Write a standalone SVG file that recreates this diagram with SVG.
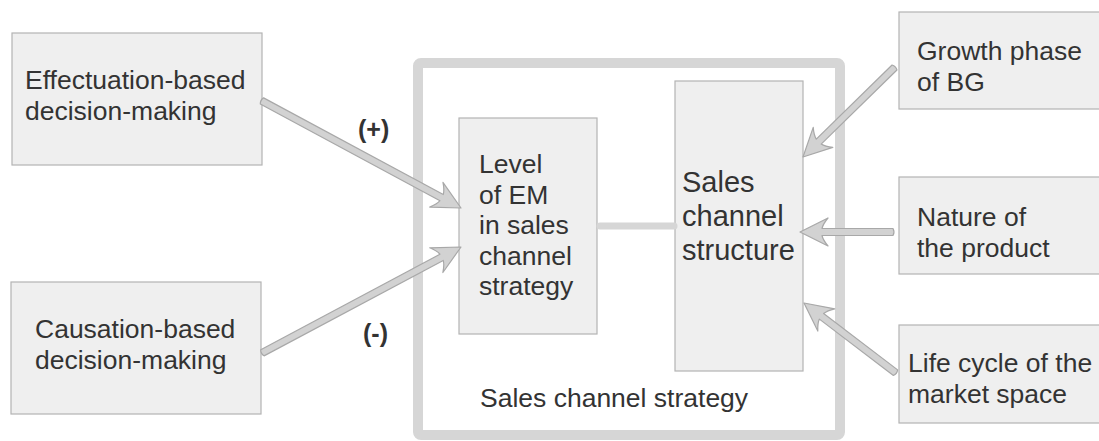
<svg xmlns="http://www.w3.org/2000/svg" width="1099" height="441" viewBox="0 0 1099 441">
<style>
.box{fill:#efefef;stroke:#b3b3b3;stroke-width:1.2}
.t{font-family:"Liberation Sans",Arial,sans-serif;font-size:26.5px;fill:#333}
.big{font-size:29px}
.b{font-family:"Liberation Sans",Arial,sans-serif;font-size:25px;font-weight:bold;fill:#333}
.arr{fill:#d2d2d2;stroke:#a8a8a8;stroke-width:1.2;stroke-linejoin:round}
</style>
<rect width="1099" height="441" fill="#fff"/>
<g id="container">
<rect x="418" y="63" width="422" height="372" rx="3" fill="none" stroke="#d6d6d6" stroke-width="10"/>
<text class="t" x="480" y="407">Sales channel strategy</text>
</g>
<g id="effectuation">
<rect class="box" x="12" y="33" width="250" height="132"/>
<text class="t" x="25" y="89">Effectuation-based</text>
<text class="t" x="25" y="120">decision-making</text>
</g>
<g id="causation">
<rect class="box" x="11" y="282" width="250" height="132"/>
<text class="t" x="35" y="338">Causation-based</text>
<text class="t" x="35" y="369">decision-making</text>
</g>
<g id="level">
<rect class="box" x="459" y="118" width="138" height="216"/>
<text class="t" x="479" y="173">Level</text>
<text class="t" x="479" y="204">of EM</text>
<text class="t" x="479" y="234">in sales</text>
<text class="t" x="479" y="265">channel</text>
<text class="t" x="479" y="295">strategy</text>
</g>
<g id="structure">
<rect class="box" x="675" y="81" width="128" height="290"/>
<text class="t big" x="682" y="192">Sales</text>
<text class="t big" x="682" y="226">channel</text>
<text class="t big" x="682" y="260">structure</text>
</g>
<g id="growth">
<rect class="box" x="899" y="12" width="205" height="97"/>
<text class="t" x="917" y="60">Growth phase</text>
<text class="t" x="917" y="91">of BG</text>
</g>
<g id="nature">
<rect class="box" x="899" y="177" width="205" height="97"/>
<text class="t" x="917" y="226">Nature of</text>
<text class="t" x="917" y="257">the product</text>
</g>
<g id="lifecycle">
<rect class="box" x="899" y="325" width="205" height="98"/>
<text class="t" x="908" y="372">Life cycle of the</text>
<text class="t" x="908" y="403">market space</text>
</g>
<g id="connectors">
<line x1="600" y1="226" x2="674" y2="226" stroke="#d6d6d6" stroke-width="7" stroke-linecap="round"/>
<path class="arr" transform="translate(461,208) rotate(208.27)" d="M0,0 L28,-14 Q23,-8 22,-3.5 L226,-3.5 Q228,0 226,3.5 L22,3.5 Q23,8 28,14 Z"/>
<path class="arr" transform="translate(461,247) rotate(151.96)" d="M0,0 L28,-14 Q23,-8 22,-3.5 L225,-3.5 Q227,0 225,3.5 L22,3.5 Q23,8 28,14 Z"/>
<path class="arr" transform="translate(803,157) rotate(-44.37)" d="M0,0 L28,-14 Q23,-8 22,-3.5 L128,-3.5 Q130,0 128,3.5 L22,3.5 Q23,8 28,14 Z"/>
<path class="arr" transform="translate(800,232) rotate(0)" d="M0,0 L28,-14 Q23,-8 22,-3.5 L93,-3.5 Q95,0 93,3.5 L22,3.5 Q23,8 28,14 Z"/>
<path class="arr" transform="translate(804,303) rotate(37.27)" d="M0,0 L28,-14 Q23,-8 22,-3.5 L115,-3.5 Q117,0 115,3.5 L22,3.5 Q23,8 28,14 Z"/>
</g>
<g id="labels">
<text class="b" x="358" y="138">(+)</text>
<text class="b" x="363" y="342">(-)</text>
</g>
</svg>
